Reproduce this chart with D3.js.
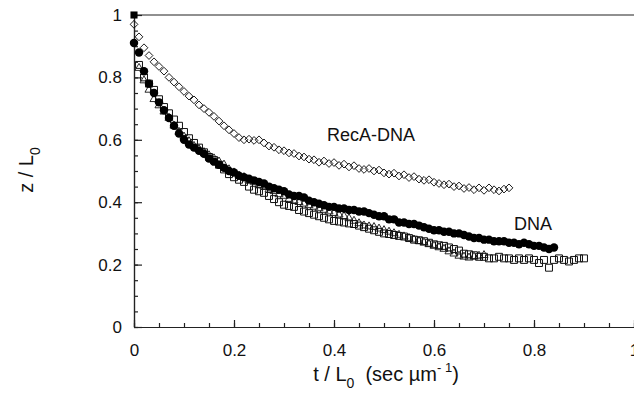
<!DOCTYPE html>
<html>
<head>
<meta charset="utf-8">
<script src="https://cdn.jsdelivr.net/npm/d3@7"></script>
<style>
  html, body { margin: 0; padding: 0; background: #fff; }
  svg { display: block; font-family: "Liberation Sans", Arial, sans-serif; }
  .tick text { font-size: 17px; fill: #111; }
</style>
</head>
<body>
<div id="chart"></div>
<script>
const step = 0.01;

// RecA-DNA, open diamonds, t from 0 to 0.75
const recaStart = 0;
const recaValues = [
  0.97, 0.93, 0.895, 0.87, 0.85, 0.835, 0.82, 0.80, 0.785, 0.77,
  0.755, 0.74, 0.728, 0.712, 0.70, 0.688, 0.675, 0.66, 0.645, 0.632,
  0.62, 0.607, 0.60, 0.602, 0.598, 0.60, 0.59, 0.58, 0.576, 0.568,
  0.565, 0.558, 0.556, 0.548, 0.545, 0.538, 0.536, 0.528, 0.532, 0.524,
  0.527, 0.518, 0.522, 0.513, 0.517, 0.508, 0.505, 0.508, 0.50, 0.503,
  0.494, 0.49, 0.493, 0.484, 0.488, 0.479, 0.482, 0.474, 0.47, 0.472,
  0.464, 0.46, 0.456, 0.458, 0.45, 0.452, 0.444, 0.447, 0.44, 0.446,
  0.438, 0.446, 0.44, 0.436, 0.442, 0.446
];

// DNA, filled circles, t from 0 to 0.84
const dnaStart = 0;
const dnaValues = [
  0.91, 0.88, 0.82, 0.78, 0.75, 0.72, 0.695, 0.67, 0.645, 0.62,
  0.60, 0.585, 0.575, 0.565, 0.555, 0.54, 0.53, 0.52, 0.51, 0.50,
  0.495, 0.485, 0.48, 0.475, 0.47, 0.465, 0.46, 0.45, 0.445, 0.44,
  0.435, 0.425, 0.42, 0.42, 0.415, 0.405, 0.40, 0.395, 0.39, 0.385,
  0.385, 0.38, 0.38, 0.375, 0.375, 0.37, 0.37, 0.365, 0.36, 0.355,
  0.355, 0.345, 0.345, 0.335, 0.335, 0.33, 0.33, 0.325, 0.32, 0.315,
  0.31, 0.31, 0.305, 0.305, 0.30, 0.30, 0.295, 0.29, 0.285, 0.285,
  0.28, 0.28, 0.275, 0.275, 0.275, 0.27, 0.27, 0.265, 0.27, 0.265,
  0.26, 0.26, 0.255, 0.25, 0.255
];

// open squares, t from 0.01 to 0.90
const squareStart = 0.01;
const squareValues = [
  0.84, 0.80, 0.78, 0.76, 0.73, 0.705, 0.685, 0.665, 0.645, 0.625,
  0.605, 0.59, 0.575, 0.56, 0.545, 0.535, 0.52, 0.505, 0.49, 0.48,
  0.472, 0.465, 0.45, 0.44, 0.435, 0.43, 0.42, 0.41, 0.40, 0.392,
  0.388, 0.385, 0.375, 0.37, 0.365, 0.36, 0.355, 0.35, 0.345, 0.34,
  0.338, 0.335, 0.332, 0.33, 0.325, 0.32, 0.315, 0.31, 0.305, 0.30,
  0.298, 0.295, 0.292, 0.29, 0.285, 0.28, 0.278, 0.275, 0.27, 0.265,
  0.262, 0.26, 0.255, 0.25, 0.245, 0.235, 0.233, 0.23, 0.225, 0.225,
  0.22, 0.22, 0.225, 0.22, 0.22, 0.215, 0.22, 0.215, 0.22, 0.215,
  0.205, 0.215, 0.19, 0.215, 0.22, 0.215, 0.21, 0.215, 0.22, 0.22
];

// open triangles, t from 0.01 to 0.70
const triangleStart = 0.01;
const triangleValues = [
  0.83, 0.79, 0.76, 0.73, 0.71, 0.69, 0.67, 0.645, 0.625, 0.61,
  0.595, 0.58, 0.57, 0.56, 0.55, 0.54, 0.53, 0.52, 0.505, 0.495,
  0.485, 0.48, 0.47, 0.465, 0.455, 0.45, 0.44, 0.435, 0.425, 0.42,
  0.41, 0.405, 0.40, 0.395, 0.39, 0.385, 0.38, 0.375, 0.37, 0.365,
  0.36, 0.355, 0.348, 0.34, 0.332, 0.325, 0.322, 0.32, 0.315, 0.31,
  0.305, 0.30, 0.295, 0.29, 0.285, 0.28, 0.275, 0.27, 0.265, 0.26,
  0.255, 0.25, 0.242, 0.235, 0.228, 0.225, 0.222, 0.225, 0.228, 0.23
];

const xTicks = [0, 0.2, 0.4, 0.6, 0.8, 1];
const yTicks = [0, 0.2, 0.4, 0.6, 0.8, 1];
const seriesLabels = ['RecA-DNA', 'DNA'];

const toPoints = (start, values) => values.map((z, i) => ({t: start + i * step, z}));

// Set the dimensions for the chart
const width = 634;
const height = 394;
const margin = {top: 15, right: 0, bottom: 67, left: 134};

const svg = d3.select('#chart')
  .append('svg')
    .attr('viewBox', `0 0 ${width} ${height}`)
    .attr('width', width)
    .attr('height', height);

const xScale = d3.scaleLinear()
  .domain([0, 1])
  .range([margin.left, width - margin.right]);
const yScale = d3.scaleLinear()
  .domain([0, 1])
  .range([height - margin.bottom, margin.top]);

// Minor ticks first, then the labelled major ticks (all pointing inward)
svg
  .append('g')
    .attr('transform', `translate(0, ${yScale(0)})`)
    .call(d3.axisBottom(xScale).tickValues(d3.range(0, 1.001, 0.05)).tickSizeInner(-4).tickSizeOuter(0).tickFormat(''));
svg
  .append('g')
    .attr('class', 'x-axis')
    .attr('transform', `translate(0, ${yScale(0)})`)
    .call(d3.axisBottom(xScale).tickValues(xTicks).tickSizeInner(-7).tickSizeOuter(0).tickPadding(17).tickFormat(d => d === 0 || d === 1 ? d : d.toFixed(1)));
svg
  .append('g')
    .attr('transform', `translate(${xScale(0)}, 0)`)
    .call(d3.axisLeft(yScale).tickValues(d3.range(0, 1.001, 0.05)).tickSizeInner(-4).tickSizeOuter(0).tickFormat(''));
svg
  .append('g')
    .attr('class', 'y-axis')
    .attr('transform', `translate(${xScale(0)}, 0)`)
    .call(d3.axisLeft(yScale).tickValues(yTicks).tickSizeInner(-8).tickSizeOuter(0).tickPadding(12).tickFormat(d => d === 0 || d === 1 ? d : d.toFixed(1)));
svg.selectAll('.domain, .tick line')
  .attr('stroke', '#222')
  .attr('stroke-width', 1.2);

// Top frame line
svg
  .append('line')
    .attr('x1', xScale(0))
    .attr('y1', yScale(1))
    .attr('x2', xScale(1))
    .attr('y2', yScale(1))
    .attr('stroke', '#222')
    .attr('stroke-width', 1.2);

// Axis titles
const xTitle = svg
  .append('text')
    .attr('x', 386)
    .attr('y', 381)
    .attr('text-anchor', 'middle')
    .style('font-size', '20px')
    .attr('fill', '#111');
xTitle.append('tspan').text('t / L');
xTitle.append('tspan').attr('dy', 7).style('font-size', '14px').text('0');
xTitle.append('tspan').attr('dy', -7).text('\u00a0 (sec \u00b5m');
xTitle.append('tspan').attr('dy', -9).style('font-size', '13px').text('- 1');
xTitle.append('tspan').attr('dy', 9).text(')');

const yTitle = svg
  .append('text')
    .attr('transform', 'translate(33, 170) rotate(-90)')
    .attr('text-anchor', 'middle')
    .style('font-size', '20px')
    .attr('fill', '#111');
yTitle.append('tspan').text('z / L');
yTitle.append('tspan').attr('dy', 7).style('font-size', '14px').text('0');

// Data markers
const markers = svg.append('g').attr('class', 'markers');

markers
  .append('g')
    .attr('fill', 'none')
    .attr('stroke', '#111')
    .attr('stroke-width', 1)
  .selectAll('path')
  .data(toPoints(squareStart, squareValues))
  .join('path')
    .attr('transform', d => `translate(${xScale(d.t)}, ${yScale(d.z)})`)
    .attr('d', d3.symbol(d3.symbolSquare, 48));

markers
  .append('g')
    .attr('fill', 'none')
    .attr('stroke', '#111')
    .attr('stroke-width', 0.9)
  .selectAll('path')
  .data(toPoints(triangleStart, triangleValues))
  .join('path')
    .attr('transform', d => `translate(${xScale(d.t)}, ${yScale(d.z)})`)
    .attr('d', d3.symbol(d3.symbolTriangle, 28));

markers
  .append('g')
    .attr('fill', '#000')
  .selectAll('path')
  .data(toPoints(dnaStart, dnaValues))
  .join('path')
    .attr('transform', d => `translate(${xScale(d.t)}, ${yScale(d.z)})`)
    .attr('d', d3.symbol(d3.symbolCircle, 56));

markers
  .append('g')
    .attr('fill', 'none')
    .attr('stroke', '#111')
    .attr('stroke-width', 0.9)
  .selectAll('path')
  .data(toPoints(recaStart, recaValues))
  .join('path')
    .attr('transform', d => `translate(${xScale(d.t)}, ${yScale(d.z)}) rotate(45)`)
    .attr('d', d3.symbol(d3.symbolSquare, 30));

// Filled square at the common starting point (0, 1)
markers
  .append('path')
    .attr('transform', `translate(${xScale(0)}, ${yScale(1)})`)
    .attr('d', d3.symbol(d3.symbolSquare, 50))
    .attr('fill', '#000');

// Series labels
svg
  .append('text')
    .attr('x', xScale(0.386))
    .attr('y', yScale(0.595))
    .style('font-size', '18px')
    .attr('fill', '#111')
    .text(seriesLabels[0]);
svg
  .append('text')
    .attr('x', xScale(0.76))
    .attr('y', yScale(0.31))
    .style('font-size', '18px')
    .attr('fill', '#111')
    .text(seriesLabels[1]);
</script>
</body>
</html>
